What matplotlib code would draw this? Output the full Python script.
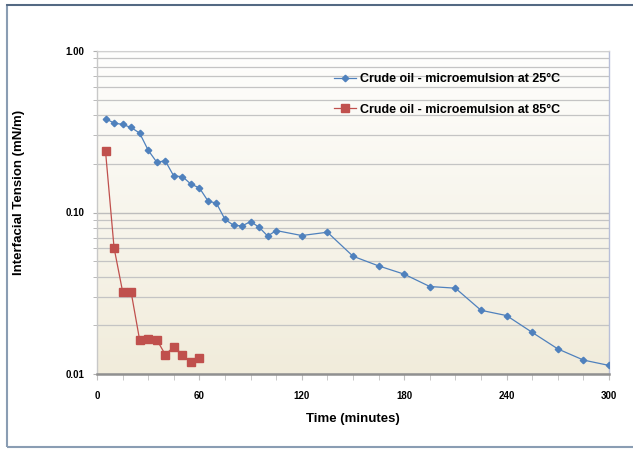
import numpy as np
import matplotlib
matplotlib.use("Agg")
import matplotlib.pyplot as plt
from matplotlib.ticker import FixedLocator, NullFormatter
from matplotlib.patches import Rectangle
from matplotlib.colors import LinearSegmentedColormap

# Data
t25 = [5, 10, 15, 20, 25, 30, 35, 40, 45, 50, 55, 60, 65, 70, 75, 80, 85, 90, 95, 100, 105,
       120, 135, 150, 165, 180, 195, 210, 225, 240, 255, 270, 285, 300]
ift25 = [0.381, 0.358, 0.351, 0.336, 0.310, 0.243, 0.205, 0.209, 0.168, 0.167, 0.150, 0.142,
         0.118, 0.114, 0.0906, 0.0834, 0.0826, 0.0879, 0.081, 0.0715, 0.0773,
         0.072, 0.0755, 0.0536, 0.0467, 0.0415, 0.0348, 0.034, 0.0248, 0.023, 0.0181,
         0.0143, 0.0122, 0.0113]
t85 = [5, 10, 15, 20, 25, 30, 35, 40, 45, 50, 55, 60]
ift85 = [0.239, 0.0604, 0.0324, 0.0321, 0.0162, 0.0165, 0.0163, 0.0132, 0.0147, 0.0132,
         0.0118, 0.0126]
label25 = "Crude oil - microemulsion at 25°C"
label85 = "Crude oil - microemulsion at 85°C"
xticks = [0, 60, 120, 180, 240, 300]
xtick_labels = ["0", "60", "120", "180", "240", "300"]
yticks = [0.01, 0.1, 1.0]
ytick_labels = ["0.01", "0.10", "1.00"]

plt.rcParams['font.family'] = ['Liberation Sans', 'DejaVu Sans']

fig = plt.figure(figsize=(6.33, 4.49), dpi=100)
fig.patch.set_facecolor('white')

# outer chart border
fig.patches.append(Rectangle((7/633, 2/449), 640/633, 442/449, transform=fig.transFigure,
                             fill=False, edgecolor='#8a9db3', linewidth=1.5))
fig.lines.append(plt.Line2D([7/633, 1], [1-5/449, 1-5/449], transform=fig.transFigure,
                            color='#4a5f7a', linewidth=1.2))

ax = fig.add_axes([97/633, 1-374/449, 512/633, 323/449])
ax.set_yscale('log')
ax.set_xlim(0, 300)
ax.set_ylim(0.01, 1.0)

# gradient background
grad = np.linspace(0, 1, 256).reshape(-1, 1)
cmap = LinearSegmentedColormap.from_list('bg', ['#fefefd', '#f1ecdb'])
ax.imshow(grad, extent=[0, 1, 0, 1], transform=ax.transAxes, aspect='auto',
          cmap=cmap, origin='upper', zorder=0)

# gridlines
minor = [m * 10.0**e for e in (-2, -1) for m in range(2, 10)]
ax.yaxis.set_major_locator(FixedLocator(yticks))
ax.yaxis.set_minor_locator(FixedLocator(minor))
ax.yaxis.set_minor_formatter(NullFormatter())
ax.set_yticklabels(ytick_labels)
ax.grid(True, which='major', axis='y', color='#bdbdbd', linewidth=1.0, zorder=1)
ax.grid(True, which='minor', axis='y', color='#c4c4c4', linewidth=0.9, zorder=1)

ax.set_xticks(xticks)
ax.set_xticklabels(xtick_labels)
ax.xaxis.set_minor_locator(FixedLocator(list(range(0, 301, 15))))

ax.plot(t25, ift25, color='#4f81bd', marker='D', markersize=3.3, linewidth=0.9,
        markeredgecolor='#4f81bd', label=label25, zorder=3)
ax.plot(t85, ift85, color='#c0504d', marker='s', markersize=6, linewidth=0.9,
        markeredgecolor='#c0504d', label=label85, zorder=3)

ax.spines['top'].set_color('#d0d0d0')
ax.spines['top'].set_linewidth(0.8)
ax.spines['left'].set_color('#c8c8c8')
ax.spines['left'].set_linewidth(1.0)
ax.spines['right'].set_color('#b8bfd8')
ax.spines['right'].set_linewidth(1.0)
ax.spines['bottom'].set_color('#909090')
ax.spines['bottom'].set_linewidth(1.8)

ax.tick_params(axis='y', which='both', length=3, color='#b0b0b0', labelsize=7, pad=6)
ax.tick_params(axis='x', which='both', length=4, color='#c0c0c0', labelsize=7, pad=8)
for lab in ax.get_xticklabels() + ax.get_yticklabels():
    lab.set_fontweight('bold')

ax.set_xlabel('Time (minutes)', fontsize=9.5, fontweight='bold', labelpad=9)
ax.set_ylabel('Interfacial Tension (mN/m)', fontsize=9.5, fontweight='bold')
ax.yaxis.set_label_coords(-0.14, 0.563)

leg = ax.legend(loc='upper left', bbox_to_anchor=(0.44, 0.967), frameon=False,
                handlelength=1.8, handletextpad=0.3, labelspacing=1.5,
                prop={'weight': 'bold', 'size': 9})

fig.savefig('out.png', dpi=100)
